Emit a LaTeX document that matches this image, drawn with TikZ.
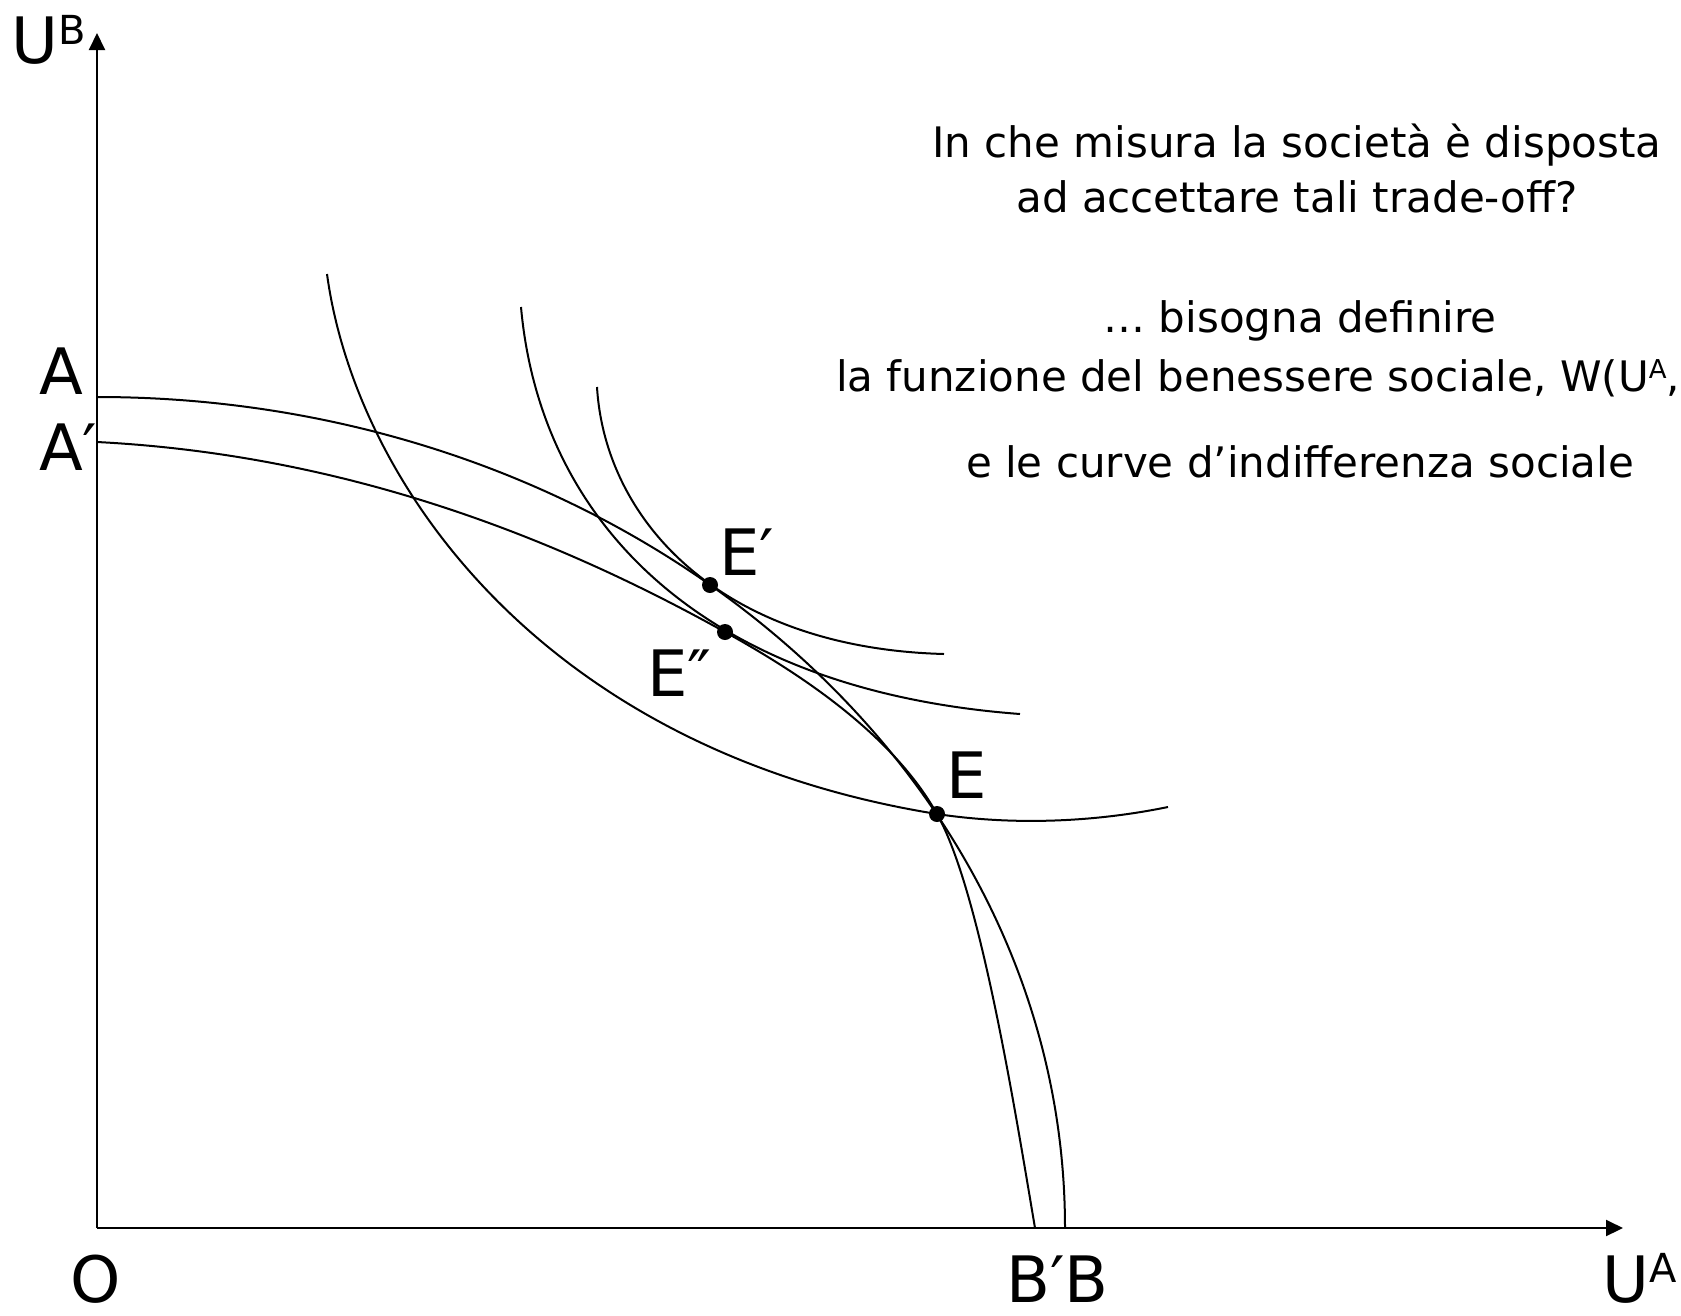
\documentclass[tikz,border=0pt]{standalone}
\usepackage{fontspec}
\setmainfont{DejaVu Sans}
\usetikzlibrary{arrows.meta}
\begin{document}
\begin{tikzpicture}[x=1pt,y=-1pt,
  curve/.style={line width=2pt},
  axis/.style={line width=2pt,-{Triangle[length=17pt,width=16pt]}},
  lbl/.style={inner sep=0pt,anchor=base west,font=\fontsize{64}{64}\selectfont},
  txt/.style={inner sep=0pt,anchor=base,font=\fontsize{42}{42}\selectfont},
  dot/.style={circle,fill=black,inner sep=0pt,minimum size=16pt}]
\useasboundingbox (0,0) rectangle (1681,1315);
% axes
\coordinate (O) at (97,1228);
\coordinate (ytop) at (97,33);
\coordinate (xend) at (1623,1228);
\draw[axis] (O) -- (ytop);
\draw[axis] (O) -- (xend);
% frontier end points and tangency points
\coordinate (A) at (97,397);
\coordinate (Ap) at (97,442);
\coordinate (B) at (1065,1228);
\coordinate (Bp) at (1035,1228);
\coordinate (cEp) at (710,585);
\coordinate (cEpp) at (725,632);
\coordinate (cE) at (937,814);
% outer frontier A-B (quarter ellipse)
\draw[curve] (A) arc[start angle=90,end angle=0,x radius=968pt,y radius=831pt];
% frontier A'-B'
\draw[curve] (Ap) .. controls (350,455) and (560,540) .. (cEpp)
  .. controls (790,668) and (890,730) .. (cE)
  .. controls (980,890) and (1015,1110) .. (Bp);
% social indifference curves
\draw[curve] (327,274) .. controls (355,480) and (540,750) .. (cE)
  .. controls (1010,825) and (1090,823) .. (1168,807);
\draw[curve] (521,307) .. controls (540,520) and (700,690) .. (1020,714);
\draw[curve] (597,387) .. controls (605,520) and (720,648) .. (944,654);
% points
\node[dot] (Ep) at (cEp) {};
\node[dot] (Epp) at (cEpp) {};
\node[dot] (E) at (cE) {};
% labels
\node[lbl] (lUB) at (11,63) {U\raise19pt\hbox{\fontsize{40}{40}\selectfont B}};
\node[lbl] (lA) at (39,394) {A};
\node[lbl] (lAp) at (39,470) {A′};
\node[lbl] (lO) at (70,1302) {O};
\node[lbl] (lBB) at (1006,1302) {B′B};
\node[lbl] (lUA) at (1602,1302) {U\raise20pt\hbox{\fontsize{40}{40}\selectfont A}};
\node[lbl] (lEp) at (719,575) {E′};
\node[lbl] (lEpp) at (647,696) {E″};
\node[lbl] (lE) at (946,798) {E};
% text
\node[txt] (t1) at (1297,157) {In che misura la società è disposta};
\node[txt] (t2) at (1297,212) {ad accettare tali trade-off?};
\node[txt] (t3) at (1300,332) {… bisogna definire};
\node[txt,anchor=base west] (t4) at (836,391) {la funzione del benessere sociale, W(U\raise13pt\hbox{\fontsize{26}{26}\selectfont A},};
\node[txt] (t5) at (1300,477) {e le curve d’indifferenza sociale};
\end{tikzpicture}
\end{document}
